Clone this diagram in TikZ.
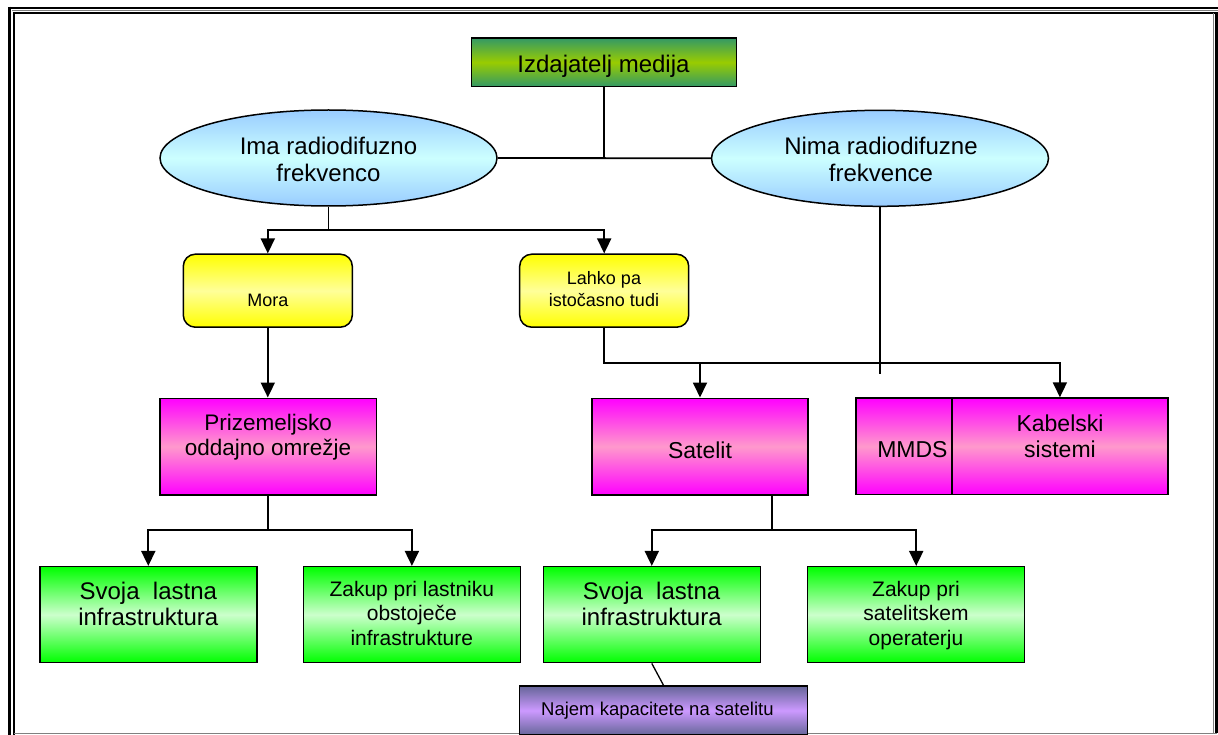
\documentclass[tikz,border=0pt]{standalone}
\usepackage{fontspec}
\setmainfont{Liberation Sans}
\usetikzlibrary{arrows.meta,shapes.geometric}
\definecolor{izdedge}{RGB}{51,153,102}
\definecolor{izdmid}{RGB}{153,204,0}
\definecolor{elblue}{RGB}{153,204,255}
\definecolor{elcyan}{RGB}{204,255,255}
\definecolor{yelA}{RGB}{255,255,0}
\definecolor{yelB}{RGB}{255,255,153}
\definecolor{magA}{RGB}{255,0,255}
\definecolor{magB}{RGB}{255,153,204}
\definecolor{grnA}{RGB}{0,255,0}
\definecolor{grnB}{RGB}{204,255,204}
\definecolor{purA}{RGB}{102,102,153}
\definecolor{purB}{RGB}{204,153,255}
\newcommand\myfs[2]{\fontsize{#1}{#2}\selectfont}
\begin{document}
\begin{tikzpicture}[x=1pt,y=-1pt,
  conn/.style={line width=1.8pt,black},
  arr/.style={conn,-{Triangle[width=14pt,length=15pt]}},
  grad/.style 2 args={top color=#1,bottom color=#1,middle color=#2},
  box/.style={draw=black,line width=1.5pt,inner sep=0pt,rectangle},
  ellbox/.style={draw=black,line width=1.5pt,inner sep=0pt,ellipse,grad={elblue}{elcyan},minimum width=337,minimum height=96},
  yelbox/.style={box,rounded corners=12pt,grad={yelA}{yelB},minimum width=169,minimum height=73},
  magbox/.style={box,grad={magA}{magB},minimum height=96.5},
  grnbox/.style={box,grad={grnA}{grnB},minimum width=217,minimum height=96},
  txt/.style={align=center,inner sep=0pt,text=black}
]
\useasboundingbox (0,0) rectangle (1218,735);
% frame
\draw[line width=2.3pt] (8.4,7.8) -- (1218,7.8);
\draw[line width=2.3pt] (9.6,6.7) -- (9.6,735);
\draw[line width=0.8pt,gray] (12,10.8) -- (1218,10.8);
\draw[line width=1.4pt] (13.3,13) -- (1218,13);
\draw[line width=1.4pt] (14,12.3) -- (14,735);
\draw[line width=2.3pt] (1216.5,12.3) -- (1216.5,733);
\draw[line width=0.8pt,gray] (1213.3,13) -- (1213.3,733);
\draw[line width=0.8pt,gray] (14,733) -- (1216.5,733);

% shapes
\node[box,grad={izdedge}{izdmid},minimum width=265,minimum height=48.7] (izd) at (604.2,62.3) {};
\node[ellbox] (ima) at (328.5,158) {};
\node[ellbox] (nima) at (880,158.3) {};
\node[yelbox] (mora) at (267.8,290.7) {};
\node[yelbox] (lahko) at (604.2,290.7) {};
\node[magbox,minimum width=216.3] (priz) at (268.2,446.5) {};
\node[magbox,minimum width=216.3] (sat) at (700,446.5) {};
\node[magbox,minimum width=95.7] (mmds) at (903.9,446.3) {};
\node[magbox,minimum width=216.3] (kab) at (1059.9,446.3) {};
\node[grnbox] (g1) at (148.3,614.7) {};
\node[grnbox] (g2) at (411.9,614.7) {};
\node[grnbox] (g3) at (651.8,614.7) {};
\node[grnbox] (g4) at (916.2,614.7) {};
\node[box,grad={purA}{purB},minimum width=288,minimum height=49] (pur) at (663.5,710.5) {};

% texts
\node[txt,font=\myfs{24}{27}] (izdt) at (603.5,66.2) {Izdajatelj medija};
\node[txt,font=\myfs{24}{26.7}] (imat) at (328.5,159.6) {Ima radiodifuzno\\frekvenco};
\node[txt,font=\myfs{24}{26.7}] (nimat) at (881,159.6) {Nima radiodifuzne\\frekvence};
\node[txt,font=\myfs{18}{21.7}] (morat) at (267.9,300.5) {Mora};
\node[txt,font=\myfs{18}{21.7}] (lahkot) at (604,289.4) {Lahko pa\\isto\v{c}asno tudi};
\node[txt,font=\myfs{22.5}{25}] (prizt) at (268.1,436.8) {Prizemeljsko\\oddajno omre\v{z}je};
\node[txt,font=\myfs{23}{26.3}] (satt) at (700,449.8) {Satelit};
\node[txt,font=\myfs{23}{26.3}] (mmdst) at (912.4,449.8) {MMDS};
\node[txt,font=\myfs{23}{26.3}] (kabt) at (1060,436.6) {Kabelski\\sistemi};
\node[txt,font=\myfs{24}{26}] (g1t) at (148.3,604.4) {Svoja\ \ lastna\\infrastruktura};
\node[txt,font=\myfs{21}{24.2}] (g2t) at (411.8,613.4) {Zakup pri lastniku\\obstoje\v{c}e\\infrastrukture};
\node[txt,font=\myfs{24}{26}] (g3t) at (651.6,604.4) {Svoja\ \ lastna\\infrastruktura};
\node[txt,font=\myfs{21}{24.2}] (g4t) at (916,615.5) {Zakup pri\\satelitskem\\operaterju};
\node[txt,font=\myfs{18.5}{21}] (purt) at (657.4,710.3) {Najem kapacitete na satelitu};

% connectors
\coordinate (j0) at (izd.south |- ima.east);
\draw[conn] (ima.east) -- (nima.west);
\draw[conn] (izd.south) -- (j0);
\coordinate (j1) at (328.5,230);
\draw[conn] (ima.south) -- (j1);
\draw[arr] (j1) -| (mora.north);
\draw[arr] (j1) -| (lahko.north);
\coordinate (nimaend) at (880,374.3);
\draw[conn] (nima.south) -- (nimaend);
\coordinate (j2) at (604.2,362.7);
\coordinate (j2s) at (sat.north |- j2);
\draw[arr] (lahko.south) -- (j2) -| (kab.north);
\draw[arr] (j2s) -- (sat.north);
\draw[arr] (mora.south) -- (mora.south |- priz.north);
\coordinate (j3) at (268.2,530);
\draw[conn] (priz.south) -- (j3);
\draw[arr] (j3) -| (g1.north);
\draw[arr] (j3) -| (g2.north);
\coordinate (satb) at (771.8,495);
\coordinate (j4) at (771.8,530);
\draw[conn] (satb) -- (j4);
\draw[arr] (j4) -| (g3.north);
\draw[arr] (j4) -| (g4.north);
\draw[line width=1.3pt] (g3.south) -- (pur.north);
\end{tikzpicture}
\end{document}
